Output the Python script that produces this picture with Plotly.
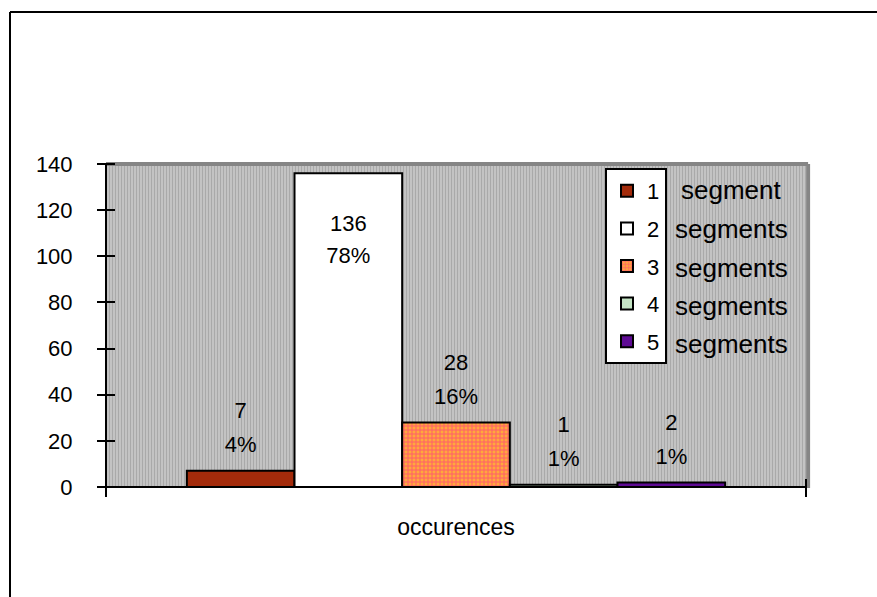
import base64
import plotly.graph_objects as go

# Segment-count distribution over all occurrences
category = ["occurences"]
series_names = ["1", "2", "3", "4", "5"]
series_suffix = ["segment", "segments", "segments", "segments", "segments"]
counts = [7, 136, 28, 1, 2]

fill_colors = ["#a32b0b", "#ffffff", "#ff9a45", "#c4e4c4", "#5e0b94"]

y_ticks = [0, 20, 40, 60, 80, 100, 120, 140]

# Figure geometry (pixels)
W, H = 877, 597
L, R, T, B = 106, 806, 164, 487
Y_MAX = 140
PX_PER_UNIT = (B - T) / Y_MAX
HALF_TICK = 9
FONT = "Arial, Liberation Sans, sans-serif"


def fx(px):
    return (px - L) / (R - L)


def fy(py):
    return (B - py) / (B - T)


total = sum(counts)

fig = go.Figure()

for name, v, col in zip(series_names, counts, fill_colors):
    marker = dict(color=col, line=dict(color="black", width=2))
    if name == "3":
        marker["pattern"] = dict(shape="+", size=4, solidity=0.45,
                                 fgcolor="#ff5f6a", bgcolor="#ffa83c",
                                 fillmode="replace")
    fig.add_trace(go.Bar(x=category, y=[v], name=name, marker=marker,
                         legendgroup=name, offsetgroup=name))

# Two-line value labels above each bar (moved inside when they would overflow)
for name, v in zip(series_names, counts):
    pct = f"{round(v / total * 100)}%"
    above_count = v + 58 / PX_PER_UNIT
    if above_count + 12 / PX_PER_UNIT > Y_MAX:
        y_count = v - 52 / PX_PER_UNIT
        y_pct = v - 84 / PX_PER_UNIT
    else:
        y_count = above_count
        y_pct = v + 24 / PX_PER_UNIT
    fig.add_trace(go.Scatter(
        x=category * 2, y=[y_count, y_pct], text=[str(v), pct],
        mode="text", textposition="middle center",
        textfont=dict(family=FONT, size=22, color="black"),
        showlegend=False, hoverinfo="skip", cliponaxis=False,
        offsetgroup=name))

# Fine vertical hatching for the plot background
pw, ph = R - L, B - T
lines = "".join(f'<rect x="{i}" y="0" width="1" height="{ph}" fill="#a9a9a9"/>'
                for i in range(0, pw, 3))
svg = (f'<svg xmlns="http://www.w3.org/2000/svg" width="{pw}" height="{ph}">'
       f'<rect width="{pw}" height="{ph}" fill="#c3c3c3"/>{lines}</svg>')
bg_src = "data:image/svg+xml;base64," + base64.b64encode(svg.encode()).decode()

shapes = [
    # plot area border (top and right)
    dict(type="line", xref="paper", yref="paper", x0=0, x1=1.003, y0=1.0, y1=1.0,
         line=dict(color="#858585", width=4), layer="below"),
    dict(type="line", xref="paper", yref="paper", x0=1.003, x1=1.003, y0=-0.003, y1=1.0,
         line=dict(color="#858585", width=4), layer="below"),
    # axis lines (the axes themselves are offset so their ticks cross these lines)
    dict(type="line", xref="paper", yref="paper", x0=0, x1=0, y0=0, y1=1,
         line=dict(color="black", width=2)),
    dict(type="line", xref="paper", yref="paper", x0=0, x1=1, y0=0, y1=0,
         line=dict(color="black", width=2)),
    # outer chart frame
    dict(type="line", xref="paper", yref="paper", x0=fx(10), x1=fx(890),
         y0=fy(12), y1=fy(12), line=dict(color="black", width=2)),
    dict(type="line", xref="paper", yref="paper", x0=fx(10), x1=fx(10),
         y0=fy(12), y1=fy(610), line=dict(color="black", width=2)),
]

legend_rows = [190, 229, 268, 306, 344]
annotations = [
    dict(xref="paper", yref="paper", x=fx(731), y=fy(py), text=s,
         showarrow=False, xanchor="center", yanchor="middle",
         font=dict(family=FONT, size=26, color="black"))
    for s, py in zip(series_suffix, legend_rows)
]

fig.update_layout(
    width=W, height=H,
    margin=dict(l=L, r=W - R, t=T, b=H - B, pad=0),
    paper_bgcolor="white",
    plot_bgcolor="#c3c3c3",
    barmode="group", bargap=0.231, bargroupgap=0,
    scattermode="group", scattergap=0.231,
    font=dict(family=FONT, size=22, color="black"),
    showlegend=True,
    legend=dict(x=fx(605), y=fy(168), xanchor="left", yanchor="top",
                bgcolor="white", bordercolor="black", borderwidth=2,
                font=dict(family=FONT, size=22, color="black"),
                tracegroupgap=6, traceorder="grouped"),
    xaxis=dict(type="category", range=[-0.5, 0.5], showgrid=False,
               showline=False, anchor="free", position=HALF_TICK / (B - T),
               ticks="outside", ticklen=2 * HALF_TICK, tickwidth=2,
               tickcolor="black", tickson="boundaries", ticklabelstandoff=33,
               tickfont=dict(family=FONT, size=23), fixedrange=True),
    yaxis=dict(range=[0, Y_MAX], tickvals=y_ticks, showgrid=False,
               zeroline=False, showline=False, anchor="free",
               position=HALF_TICK / (R - L),
               ticks="outside", ticklen=2 * HALF_TICK, tickwidth=2,
               tickcolor="black", ticklabelstandoff=20,
               tickfont=dict(family=FONT, size=22)),
    images=[dict(source=bg_src, xref="paper", yref="paper", x=0, y=1,
                 sizex=1, sizey=1, sizing="stretch", layer="below",
                 xanchor="left", yanchor="top")],
    shapes=shapes,
    annotations=annotations,
)

fig.write_html("out.html")
